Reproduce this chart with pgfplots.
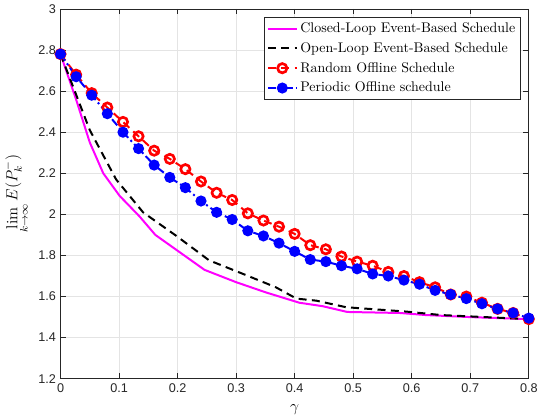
\documentclass[border=0pt]{standalone}
\usepackage{fontspec}
\usepackage{amsmath}
\usepackage{pgfplots}
\usepackage{pgfplotstable}
\pgfplotsset{compat=1.18}
\newfontfamily\tickfont{Liberation Sans}
\definecolor{gridgray}{RGB}{228,228,228}
\definecolor{axgray}{RGB}{38,38,38}
\definecolor{mag}{RGB}{255,0,255}

% offline schedules, 31 points each
\pgfplotstableread{
x      rnd    per
0      2.78   2.78
0.0267 2.68   2.67
0.0533 2.59   2.58
0.08   2.52   2.49
0.1067 2.45   2.40
0.1333 2.38   2.32
0.16   2.31   2.24
0.1867 2.27   2.18
0.2133 2.22   2.13
0.24   2.16   2.065
0.2667 2.105  2.01
0.2933 2.07   1.975
0.32   2.005  1.92
0.3467 1.97   1.895
0.3733 1.94   1.86
0.4    1.905  1.82
0.4267 1.85   1.78
0.4533 1.83   1.77
0.48   1.795  1.75
0.5067 1.77   1.735
0.5333 1.75   1.71
0.56   1.72   1.70
0.5867 1.70   1.68
0.6133 1.67   1.66
0.64   1.645  1.63
0.6667 1.61   1.61
0.6933 1.60   1.59
0.72   1.57   1.565
0.7467 1.54   1.54
0.7733 1.52   1.52
0.8    1.49   1.495
}\offline

\begin{document}
\begin{tikzpicture}
\begin{axis}[
  scale only axis, width=352pt, height=278pt,
  xmin=0, xmax=0.8, ymin=1.2, ymax=3,
  xtick={0,0.1,...,0.8}, ytick={1.2,1.4,...,3.01},
  tick align=inside, major tick length=4pt,
  xtick pos=both, ytick pos=both,
  grid=major, grid style={gridgray, line width=0.6pt},
  axis line style={axgray, line width=0.6pt},
  tick style={axgray, line width=0.6pt},
  /pgf/number format/assume math mode=true,
  ticklabel style={font=\tickfont\fontsize{9.5}{11}\selectfont, text=axgray},
  xlabel={$\gamma$},
  ylabel={$\lim\limits_{k\to\infty} E(P_k^-)$},
  label style={font=\fontsize{12}{14}\selectfont},
  xlabel style={yshift=-2pt},
  legend style={at={(0.983,0.978)}, anchor=north east, draw=axgray,
    font=\fontsize{10.5}{12.5}\selectfont, row sep=2pt, inner sep=2pt},
  legend cell align=left,
  legend image code/.code={%
    \draw[mark repeat=2,mark phase=2,#1]
      plot coordinates {(0cm,0cm) (0.38cm,0cm) (0.76cm,0cm)};},
]
\addplot[mag, line width=1.5pt] coordinates {
  (0,2.78) (0.027,2.556) (0.05,2.35) (0.073,2.20) (0.101,2.09)
  (0.135,1.99) (0.162,1.90) (0.246,1.73) (0.30,1.67) (0.351,1.62)
  (0.408,1.57) (0.448,1.553) (0.49,1.525) (0.58,1.52) (0.624,1.51)
  (0.70,1.50) (0.8,1.49)};
\addlegendentry{Closed-Loop Event-Based Schedule}
\addplot[black, line width=1.5pt, dash pattern=on 6pt off 4pt] coordinates {
  (0,2.78) (0.05,2.41) (0.095,2.17) (0.141,2.01) (0.198,1.895)
  (0.254,1.776) (0.312,1.71) (0.368,1.645) (0.403,1.59) (0.437,1.58)
  (0.488,1.548) (0.59,1.527) (0.65,1.51) (0.8,1.49)};
\addlegendentry{Open-Loop Event-Based Schedule}
\addplot[red, line width=1.5pt, dash pattern=on 6pt off 4pt,
  mark=o, mark size=3.5pt, mark options={solid, line width=2pt}]
  table[x=x, y=rnd] {\offline};
\addlegendentry{Random Offline Schedule}
\addplot[blue, line width=1.5pt, dash pattern=on 6pt off 2.5pt on 1.5pt off 2.5pt,
  mark=*, mark size=3.4pt, mark options={solid, fill=blue}]
  table[x=x, y=per] {\offline};
\addlegendentry{Periodic Offline schedule}
\end{axis}
\end{tikzpicture}
\end{document}
